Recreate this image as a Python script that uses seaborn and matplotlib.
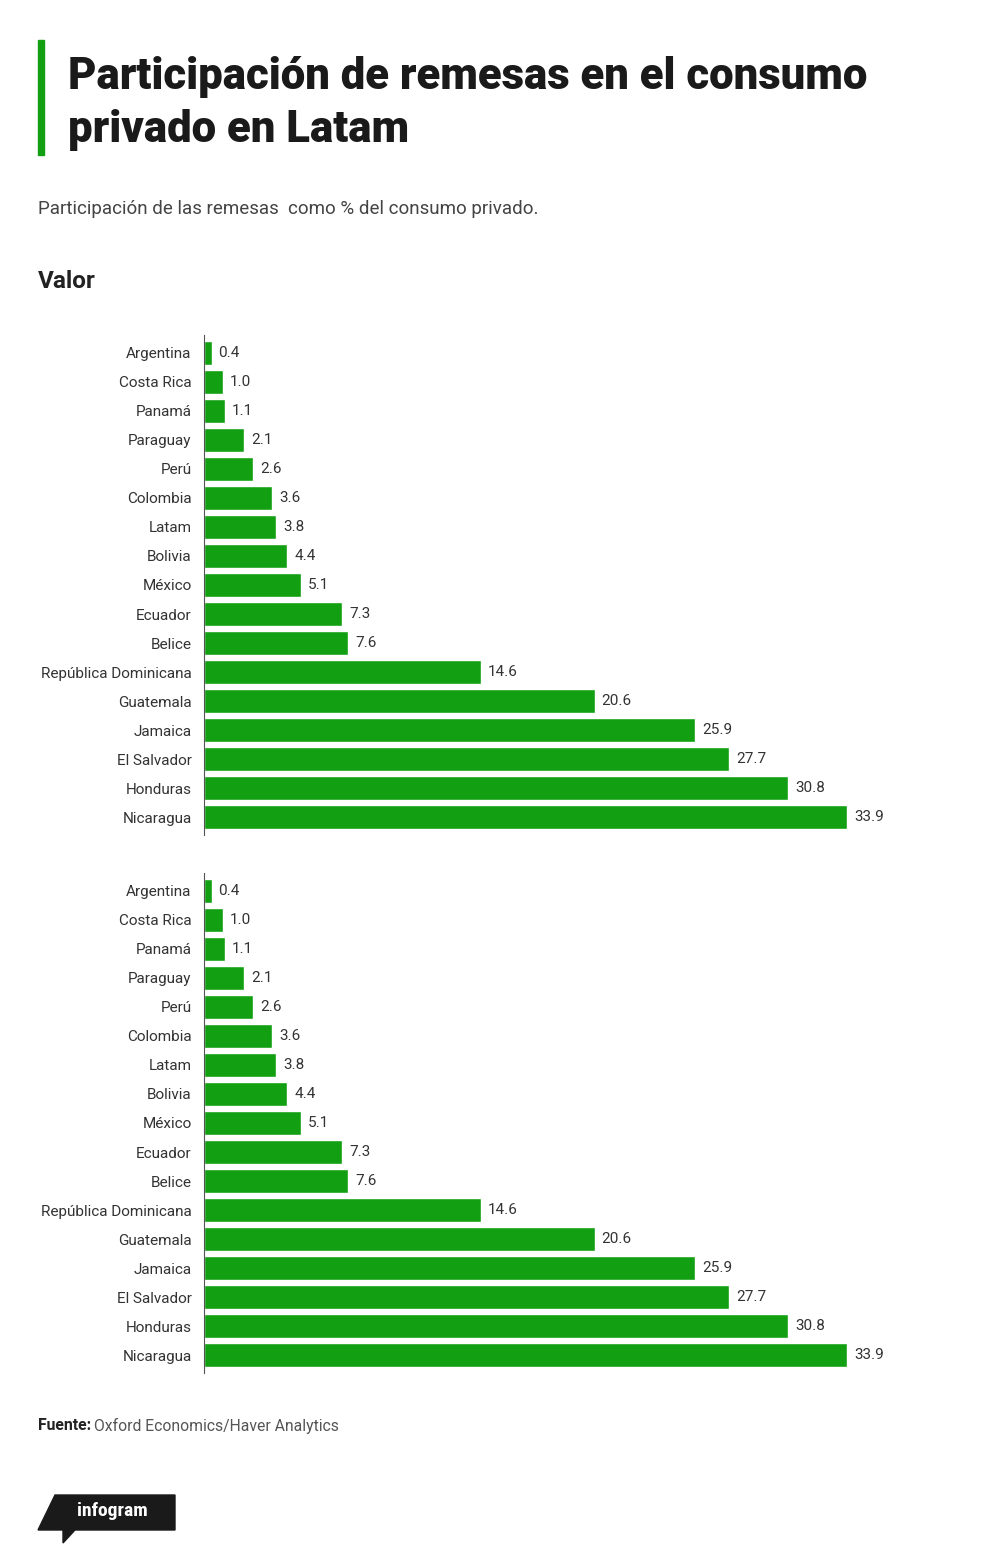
import numpy as np
import pandas as pd
import seaborn as sns
import matplotlib
import matplotlib.pyplot as plt
from matplotlib.patches import Rectangle, Polygon

matplotlib.use('Agg')
sns.set_theme(style='white')
plt.rcParams['font.family'] = ['Roboto', 'DejaVu Sans']

# Chart data
countries = ["Argentina", "Costa Rica", "Panamá", "Paraguay", "Perú", "Colombia",
             "Latam", "Bolivia", "México", "Ecuador", "Belice", "República Dominicana",
             "Guatemala", "Jamaica", "El Salvador", "Honduras", "Nicaragua"]
values = [0.4, 1.0, 1.1, 2.1, 2.6, 3.6, 3.8, 4.4, 5.1, 7.3, 7.6, 14.6,
          20.6, 25.9, 27.7, 30.8, 33.9]
value_labels = ["0.4", "1.0", "1.1", "2.1", "2.6", "3.6", "3.8", "4.4", "5.1",
                "7.3", "7.6", "14.6", "20.6", "25.9", "27.7", "30.8", "33.9"]

df = pd.DataFrame({"pais": countries, "valor": values})

GREEN = "#12a012"
W, H = 1000, 1563
fig = plt.figure(figsize=(W / 100, H / 100), dpi=100)
fig.patch.set_facecolor("white")


def fx(px):
    return px / W


def fy(py):
    return 1 - py / H


# Title block
fig.add_artist(Rectangle((fx(38), fy(155)), fx(6), (155 - 40) / H,
                         color=GREEN, transform=fig.transFigure))
fig.text(fx(68), fy(77), "Participación de remesas en el consumo", fontsize=31.5,
         fontweight="black", color="#1a1a1a", va="center", ha="left")
fig.text(fx(68), fy(130), "privado en Latam", fontsize=31.5,
         fontweight="black", color="#1a1a1a", va="center", ha="left")
fig.text(fx(38), fy(209), "Participación de las remesas  como % del consumo privado.",
         fontsize=13.5, color="#444444", va="center", ha="left")
fig.text(fx(38), fy(281), "Valor", fontsize=17.5, fontweight="bold",
         color="#222222", va="center", ha="left")

# Two identical bar charts
scale = (847 - 204) / 33.9
x_max = (920 - 204) / scale
for top_px in (335, 873):
    ax = fig.add_axes([fx(204), fy(top_px + 500), fx(920 - 204), 500 / H])
    sns.barplot(data=df, x="valor", y="pais", orient="h", color=GREEN,
                saturation=1, width=0.86, ax=ax)
    ax.set_xlim(0, x_max)
    ax.set_ylim(16.62, -0.62)
    ax.set_xlabel("")
    ax.set_ylabel("")
    ax.set_xticks([])
    ax.tick_params(axis="y", length=0, pad=9, labelsize=11, labelcolor="#333333")
    for s in ("top", "right", "bottom"):
        ax.spines[s].set_visible(False)
    ax.spines["left"].set_color("#555555")
    ax.spines["left"].set_linewidth(0.8)
    ax.bar_label(ax.containers[0], labels=value_labels, padding=5,
                 fontsize=11, color="#333333")

# Source
fig.text(fx(38), fy(1426), "Fuente:", fontsize=11.3, fontweight="bold",
         color="#222222", va="center", ha="left")
fig.text(fx(94), fy(1426), "Oxford Economics/Haver Analytics", fontsize=11.3,
         color="#555555", va="center", ha="left")

# infogram logo
logo = Polygon([(fx(55), fy(1495)), (fx(175), fy(1495)), (fx(175), fy(1530)),
                (fx(75), fy(1530)), (fx(63), fy(1543)), (fx(63), fy(1530)),
                (fx(38), fy(1530))], closed=True, color="#1a1a1a",
               transform=fig.transFigure)
fig.add_artist(logo)
fig.text(fx(112), fy(1511), "infogram", fontsize=14, fontweight="bold",
         color="white", va="center", ha="center", family=["Roboto Condensed", "Roboto", "DejaVu Sans"])

fig.savefig("out.png", dpi=100, facecolor="white")
